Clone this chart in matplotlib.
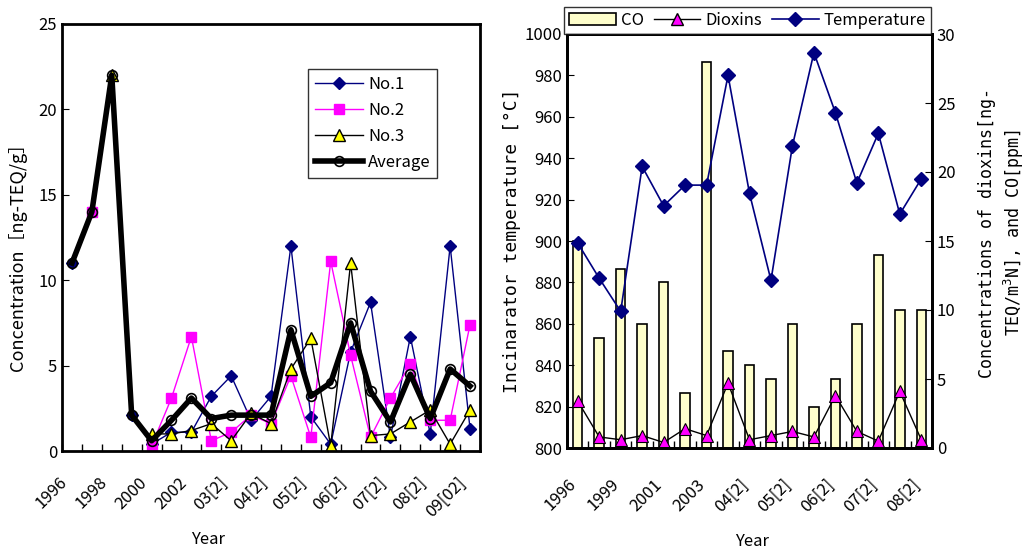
import numpy as np
import matplotlib
matplotlib.use("Agg")
import matplotlib.pyplot as plt
from matplotlib.transforms import ScaledTranslation
from matplotlib.lines import Line2D
from matplotlib.patches import Patch

plt.rcParams['font.family'] = ['Noto Sans CJK JP', 'DejaVu Sans']
plt.rcParams['font.size'] = 12

nan = np.nan
# ---------------- left chart data ----------------
left_cats = ['1996', '1997', '1998', '1999', '2000', '2001', '2002', '2003', '03[2]',
             '04', '04[2]', '05', '05[2]', '06', '06[2]', '07', '07[2]', '08', '08[2]',
             '09', '09[02]']
no1 = [11.0, nan, nan, 2.1, 0.4, 1.1, 1.1, 3.2, 4.4, 1.8, 3.2, 12.0, 2.0, 0.4, 5.8,
       8.7, 0.8, 6.7, 1.0, 12.0, 1.3]
no2 = [nan, 14.0, nan, nan, 0.3, 3.1, 6.7, 0.6, 1.1, 2.1, 1.6, 4.4, 0.8, 11.1, 5.6,
       0.8, 3.1, 5.1, 1.8, 1.8, 7.4]
no3 = [nan, nan, 22.0, nan, 1.0, 1.0, 1.2, 1.6, 0.6, 2.2, 1.6, 4.8, 6.6, 0.3, 11.0,
       0.9, 1.0, 1.7, 2.4, 0.4, 2.4]
avg = [11.0, 14.0, 22.0, 2.1, 0.6, 1.8, 3.1, 1.9, 2.1, 2.1, 2.1, 7.1, 3.2, 4.0, 7.5,
       3.5, 1.7, 4.5, 1.9, 4.8, 3.8]

# ---------------- right chart data ----------------
right_cats = ['1996', '1998', '1999', '2000', '2001', '2002', '2003', '04', '04[2]',
              '05', '05[2]', '06', '06[2]', '07', '07[2]', '08', '08[2]']
co = [15, 8, 13, 9, 12, 4, 28, 7, 6, 5, 9, 3, 5, 9, 14, 10, 10]
dioxins = [3.4, 0.8, 0.6, 0.9, 0.4, 1.4, 0.9, 4.7, 0.6, 0.9, 1.2, 0.8, 3.8, 1.2, 0.5,
           4.1, 0.6]
temperature = [899, 882, 866, 936, 917, 927, 927, 980, 923, 881, 946, 991, 962, 928,
               952, 913, 930]

NAVY = '#000080'
MAG = '#FF00FF'
YEL = '#FFFF00'
BARC = '#FFFFCC'
MONO = ['DejaVu Sans Mono', 'Noto Sans CJK JP']

W, H = 1029, 550
fig = plt.figure(figsize=(W / 100, H / 100), dpi=100)


def style_cat_axis(ax, cats, dx, dy):
    n = len(cats)
    x = np.arange(n)
    ax.set_xlim(-0.5, n - 0.5)
    ax.set_xticks(np.arange(n + 1) - 0.5)
    ax.set_xticklabels([])
    ax.tick_params(axis='x', which='major', direction='in', length=5, width=1)
    ax.set_xticks(x[::2], minor=True)
    ax.set_xticklabels([cats[i] for i in x[::2]], minor=True, rotation=45,
                       ha='right', va='top', rotation_mode='anchor')
    ax.tick_params(axis='x', which='minor', length=0, pad=0)
    off = ScaledTranslation(dx / 100, dy / 100, fig.dpi_scale_trans)
    for lab in ax.get_xticklabels(minor=True):
        lab.set_transform(lab.get_transform() + off)


# ================= LEFT =================
ax1 = fig.add_axes([62 / W, 1 - 451 / H, (480 - 62) / W, (451 - 24) / H])
x1 = np.arange(len(left_cats))
ax1.plot(x1, no1, color=NAVY, lw=1, marker='D', ms=6.5, mfc=NAVY, mec=NAVY, label='No.1')
ax1.plot(x1, no2, color=MAG, lw=1, marker='s', ms=7, mfc=MAG, mec=MAG, label='No.2')
ax1.plot(x1, no3, color='black', lw=1, marker='^', ms=8, mfc=YEL, mec='black', mew=1,
         label='No.3')
ax1.plot(x1, avg, color='black', lw=4, marker='o', ms=7, mfc='none', mec='black', mew=1.2,
         label='Average')
ax1.set_ylim(0, 25)
ax1.set_yticks(np.arange(0, 26, 5))
ax1.tick_params(axis='y', direction='in', length=5)
style_cat_axis(ax1, left_cats, -13, -23)
for s in ax1.spines.values():
    s.set_linewidth(2)
fig.text(18 / W, 1 - 252 / H, 'Concentration［ng-TEQ/g］', rotation=90,
         ha='center', va='center', fontsize=13)
fig.text(208 / W, 1 - 540 / H, 'Year', ha='center', va='center')
leg1 = ax1.legend(loc='upper left', bbox_to_anchor=(308 / W, 1 - 69 / H),
                  bbox_transform=fig.transFigure, frameon=True, fancybox=False,
                  edgecolor='black', handlelength=2.9, borderpad=0.4,
                  labelspacing=0.55, handletextpad=0.3, borderaxespad=0)
leg1.get_frame().set_linewidth(1)

# ================= RIGHT =================
axT = fig.add_axes([567 / W, 1 - 448 / H, (932 - 567) / W, (448 - 34) / H])
axC = axT.twinx()
axT.set_zorder(axC.get_zorder() + 1)
axT.patch.set_visible(False)
x2 = np.arange(len(right_cats))
axC.bar(x2, co, width=0.44, color=BARC, edgecolor='black', linewidth=1.2)
axC.plot(x2, dioxins, color='black', lw=1, marker='^', ms=8, mfc=MAG, mec='black',
         mew=0.8)
axT.plot(x2, temperature, color=NAVY, lw=1.2, marker='D', ms=7, mfc=NAVY, mec=NAVY)
axT.set_ylim(800, 1000)
axT.set_yticks(np.arange(800, 1001, 20))
axC.set_ylim(0, 30)
axC.set_yticks(np.arange(0, 31, 5))
axT.tick_params(axis='y', direction='in', length=5)
axC.tick_params(axis='y', direction='in', length=5)
style_cat_axis(axT, right_cats, -10, -28)
for s in axC.spines.values():
    s.set_linewidth(2)
for s in axT.spines.values():
    s.set_linewidth(2)
fig.text(512 / W, 1 - 241 / H, 'Incinarator temperature [°C]', rotation=90,
         ha='center', va='center', family=MONO, fontsize=13)
fig.text(752 / W, 1 - 541 / H, 'Year', ha='center', va='center')
fig.text(1002 / W, 1 - 233 / H, 'Concentrations of dioxins[ng-\nTEQ/m$^3$N], and CO[ppm]',
         rotation=90, ha='center', va='center', multialignment='center',
         linespacing=1.3, family=MONO, fontsize=12)

handles = [Patch(facecolor=BARC, edgecolor='black', linewidth=1.2),
           Line2D([], [], color='black', lw=1, marker='^', ms=8, mfc=MAG, mec='black'),
           Line2D([], [], color=NAVY, lw=1.2, marker='D', ms=7, mfc=NAVY, mec=NAVY)]
leg2 = fig.legend(handles, ['CO', 'Dioxins', 'Temperature'], loc='upper left',
                  bbox_to_anchor=(564 / W, 1 - 7 / H), ncol=3, frameon=True,
                  fancybox=False, edgecolor='black', handlelength=2.8,
                  handletextpad=0.3, columnspacing=0.6, borderpad=0.3,
                  borderaxespad=0)
leg2.get_frame().set_linewidth(1)
leg2.set_zorder(10)

fig.savefig('out.png', dpi=100)
